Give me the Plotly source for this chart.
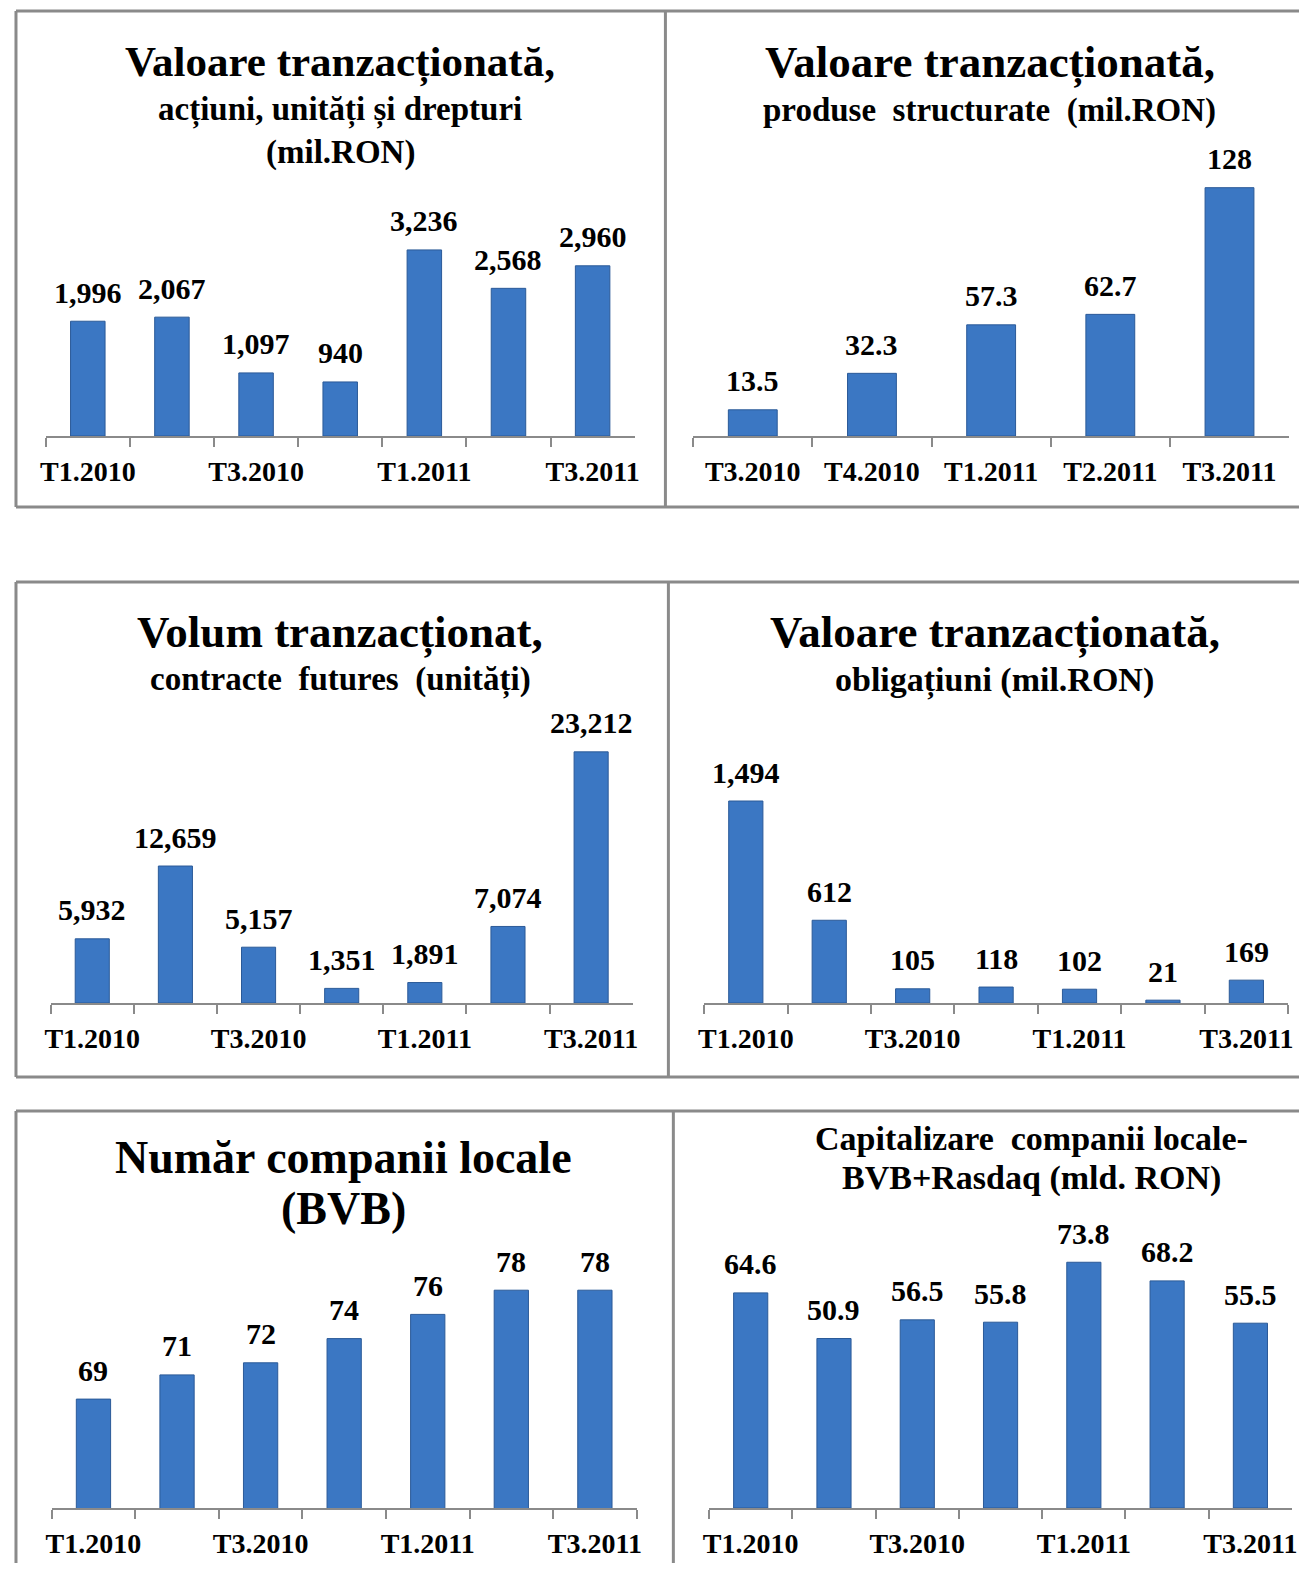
import plotly.graph_objects as go

W, H = 1312, 1571          # browser window
OFF = 8                     # default body margin of the page
FW, FH = W - 2 * OFF, H - 2 * OFF   # figure size so the page fits the window exactly

# ---------------- data ----------------
cats7 = ["T1.2010", "T2.2010", "T3.2010", "T4.2010", "T1.2011", "T2.2011", "T3.2011"]
ticks7 = ["T1.2010", "", "T3.2010", "", "T1.2011", "", "T3.2011"]
cats5 = ["T3.2010", "T4.2010", "T1.2011", "T2.2011", "T3.2011"]
ticks5 = ["T3.2010", "T4.2010", "T1.2011", "T2.2011", "T3.2011"]

val_actiuni = [1996, 2067, 1097, 940, 3236, 2568, 2960]
val_structurate = [13.5, 32.3, 57.3, 62.7, 128]
vol_futures = [5932, 12659, 5157, 1351, 1891, 7074, 23212]
val_obligatiuni = [1494, 612, 105, 118, 102, 21, 169]
nr_companii = [69, 71, 72, 74, 76, 78, 78]
capitalizare = [64.6, 50.9, 56.5, 55.8, 73.8, 68.2, 55.5]

FONT = "Liberation Serif, Times New Roman, serif"
BAR = "#3b77c3"
BAR_LINE = "#2b5a98"
GRAY = "#8a8a8a"


def px(x):
    return (x - OFF) / FW


def py(y):
    return 1 - (y - OFF) / FH


# chart layout specs (window pixels)
charts = [
    dict(cats=cats7, ticks=ticks7, vals=val_actiuni, fmt="{:,}", x0=40, x1=634, base=436, ppu=0.0575, ymin=0,
         titles=[("Valoare tranzacționată,", 43, 62), ("acțiuni, unități și drepturi", 33, 110), ("(mil.RON)", 33, 153)], cx=337),
    dict(cats=cats5, ticks=ticks5, vals=val_structurate, fmt="{:g}", x0=693, x1=1294, base=436, ppu=1.94, ymin=0,
         titles=[("Valoare tranzacționată,", 45, 62), ("produse  structurate  (mil.RON)", 33, 110)], cx=992),
    dict(cats=cats7, ticks=ticks7, vals=vol_futures, fmt="{:,}", x0=45, x1=632, base=1003, ppu=0.01082, ymin=0,
         titles=[("Volum tranzacționat,", 45, 632), ("contracte  futures  (unități)", 33, 680)], cx=337),
    dict(cats=cats7, ticks=ticks7, vals=val_obligatiuni, fmt="{:,}", x0=704, x1=1293, base=1003, ppu=0.1352, ymin=0,
         titles=[("Valoare tranzacționată,", 45, 632), ("obligațiuni (mil.RON)", 34, 680)], cx=997),
    dict(cats=cats7, ticks=ticks7, vals=nr_companii, fmt="{:,}", x0=46, x1=636, base=1508, ppu=12.1, ymin=60,
         titles=[("Număr companii locale", 46, 1157), ("(BVB)", 46, 1208)], cx=340),
    dict(cats=cats7, ticks=ticks7, vals=capitalizare, fmt="{:g}", x0=709, x1=1297, base=1508, ppu=3.33, ymin=0,
         titles=[("Capitalizare  companii locale-", 34, 1138), ("BVB+Rasdaq (mld. RON)", 34, 1178)], cx=1034),
]

fig = go.Figure()
annotations = []
PLOT_H = 280

for i, c in enumerate(charts):
    n = i + 1
    xa = "x" if n == 1 else f"x{n}"
    ya = "y" if n == 1 else f"y{n}"
    fig.add_trace(go.Bar(
        x=c["cats"], y=c["vals"], xaxis=xa, yaxis=ya, width=0.41,
        marker=dict(color=BAR, line=dict(color=BAR_LINE, width=1)),
        showlegend=False, hoverinfo="x+y",
    ))
    ymax = c["ymin"] + PLOT_H / c["ppu"]
    xkey = "xaxis" if n == 1 else f"xaxis{n}"
    ykey = "yaxis" if n == 1 else f"yaxis{n}"
    fig.update_layout(**{
        xkey: dict(domain=[px(c["x0"]), px(c["x1"])], anchor=ya, type="category",
                   range=[-0.5, len(c["cats"]) - 0.5],
                   tickmode="array", tickvals=c["cats"], ticktext=c["ticks"], tickangle=0,
                   tickson="boundaries", ticks="outside", ticklen=9, tickwidth=1.5, tickcolor=GRAY,
                   showline=True, linecolor=GRAY, linewidth=1.5, showgrid=False, zeroline=False,
                   ticklabelstandoff=10,
                   tickfont=dict(family=FONT, size=28, color="black", weight="bold")),
        ykey: dict(domain=[py(c["base"]), py(c["base"] - PLOT_H)], anchor=xa,
                   range=[c["ymin"], ymax], visible=False, showgrid=False, zeroline=False),
    })
    for cat, v in zip(c["cats"], c["vals"]):
        annotations.append(dict(x=cat, y=v, xref=xa, yref=ya, text=c["fmt"].format(v),
                                showarrow=False, yanchor="middle", xanchor="center", yshift=29,
                                font=dict(family=FONT, size=30, color="black", weight="bold")))
    for text, size, ypx in c["titles"]:
        annotations.append(dict(x=px(c["cx"]), y=py(ypx), xref="paper", yref="paper", text=text,
                                showarrow=False, xanchor="center", yanchor="middle",
                                font=dict(family=FONT, size=size, color="black", weight="bold")))

# panel border lines (window pixels), clamped inside the figure
XR, YB = W - OFF, H - OFF
border_lines = [
    # row 1
    (10, 11, XR, 11), (10, 507, XR, 507), (10, 11, 10, 507), (665, 11, 665, 507),
    # row 2
    (10, 582, XR, 582), (10, 1077, XR, 1077), (10, 582, 10, 1077), (668, 582, 668, 1077),
    # row 3
    (10, 1111, XR, 1111), (10, 1111, 10, YB), (673, 1111, 673, YB),
]
shapes = [dict(type="line", xref="paper", yref="paper", x0=px(a), x1=px(b), y0=py(t), y1=py(d),
               line=dict(color=GRAY, width=3), layer="below")
          for a, t, b, d in border_lines]

fig.update_layout(width=FW, height=FH, autosize=False, margin=dict(l=0, r=0, t=0, b=0),
                  paper_bgcolor="white", plot_bgcolor="rgba(0,0,0,0)",
                  annotations=annotations, shapes=shapes, bargap=0.59)

fig.write_html("out.html", config={"displayModeBar": False})
